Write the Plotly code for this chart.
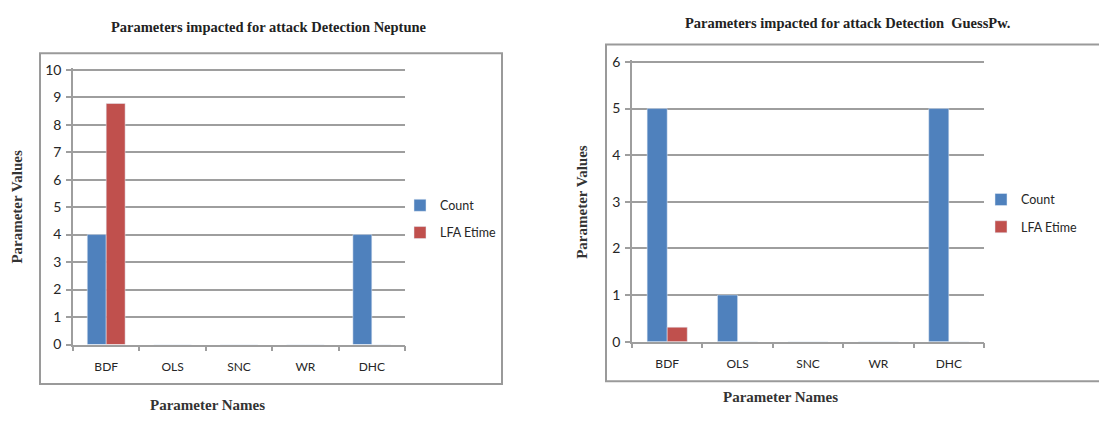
import plotly.graph_objects as go

categories = ["BDF", "OLS", "SNC", "WR", "DHC"]
neptune_count = [4, 0, 0, 0, 4]
neptune_lfa = [8.77, 0, 0, 0, 0]
guess_count = [5, 1, 0, 0, 5]
guess_lfa = [0.31, 0, 0, 0, 0]

left_title = "Parameters impacted for attack Detection Neptune"
right_title = "Parameters impacted for attack Detection  GuessPw."
y_title = "Parameter Values"
x_title = "Parameter Names"

BLUE = "#4F81BD"
RED = "#C0504D"
GRID = "#9E9E9E"
W, H = 1099, 421

def px(x):
    return x / W

def py(y):
    return 1 - y / H

fig = go.Figure()
fig.add_bar(x=categories, y=neptune_count, name="Count", marker_color=BLUE,
            xaxis="x", yaxis="y", legend="legend", legendgroup="a")
fig.add_bar(x=categories, y=neptune_lfa, name="LFA Etime", marker_color=RED,
            xaxis="x", yaxis="y", legend="legend", legendgroup="b")
fig.add_bar(x=categories, y=guess_count, name="Count", marker_color=BLUE,
            xaxis="x2", yaxis="y2", legend="legend2", legendgroup="c")
fig.add_bar(x=categories, y=guess_lfa, name="LFA Etime", marker_color=RED,
            xaxis="x2", yaxis="y2", legend="legend2", legendgroup="d")

SANS = "Lato, Open Sans, sans-serif"
xaxis_common = dict(type="category", showline=True, linecolor=GRID, linewidth=1.5,
                    ticks="outside", tickson="boundaries", ticklen=5, tickcolor=GRID,
                    tickwidth=1.5, showgrid=False, ticklabelstandoff=10,
                    tickfont=dict(family=SANS, size=12, color="#262626"),
                    fixedrange=True)
yaxis_common = dict(showline=True, linecolor=GRID, linewidth=1.5, ticks="outside",
                    ticklen=5, tickcolor=GRID, tickwidth=1.5, showgrid=True,
                    gridcolor=GRID, gridwidth=1.5, zeroline=False, ticklabelstandoff=2,
                    tickfont=dict(family=SANS, size=14, color="#262626"),
                    dtick=1, tick0=0, fixedrange=True)

# y-axis scale: left 0 at y=350, 10 at y=65; right 0 at 347, 6 at 57
L_TOP, R_TOP = 10.07, 6.04
l_unit = (350 - 65) / 10
r_unit = (347 - 57) / 6

legend_font = dict(family=SANS, size=12.5, color="#262626")
fig.update_layout(
    width=W, height=H,
    margin=dict(l=0, r=0, t=0, b=0),
    paper_bgcolor="white", plot_bgcolor="rgba(0,0,0,0)",
    barmode="group", bargap=0.43, bargroupgap=0,
    showlegend=True,
    xaxis=dict(domain=[px(73), px(405)], anchor="y", **xaxis_common),
    yaxis=dict(domain=[py(350), py(350 - L_TOP * l_unit)], anchor="x", range=[0, L_TOP], **yaxis_common),
    xaxis2=dict(domain=[px(632), px(984)], anchor="y2", **xaxis_common),
    yaxis2=dict(domain=[py(347), py(347 - R_TOP * r_unit)], anchor="x2", range=[0, R_TOP], **yaxis_common),
    legend=dict(x=px(400), y=py(220), xanchor="left", yanchor="middle",
                font=legend_font, tracegroupgap=8, bgcolor="rgba(0,0,0,0)"),
    legend2=dict(x=px(981), y=py(214), xanchor="left", yanchor="middle",
                 font=legend_font, tracegroupgap=8, bgcolor="rgba(0,0,0,0)"),
    shapes=[
        dict(type="rect", xref="paper", yref="paper", x0=px(40), x1=px(502),
             y0=py(391), y1=py(48), line=dict(color="#9A9A9A", width=2), layer="below"),
        dict(type="rect", xref="paper", yref="paper", x0=px(606), x1=px(1110),
             y0=py(388), y1=py(39), line=dict(color="#9A9A9A", width=2), layer="below"),
    ],
)

title_font = dict(family="Liberation Serif, DejaVu Serif, serif", size=14.5, color="#222222")
axis_font = dict(family="Liberation Serif, DejaVu Serif, serif", size=15, color="#333333")
ann = []
ann.append(dict(text="<b>%s</b>" % left_title, x=px(269), y=py(21), xref="paper", yref="paper",
                showarrow=False, xanchor="center", yanchor="middle", font=title_font))
ann.append(dict(text="<b>%s</b>" % right_title, x=px(848), y=py(17), xref="paper", yref="paper",
                showarrow=False, xanchor="center", yanchor="middle", font=title_font))
ann.append(dict(text="<b>%s</b>" % y_title, x=px(17), y=py(207), xref="paper", yref="paper",
                showarrow=False, textangle=-90, xanchor="center", yanchor="middle", font=axis_font))
ann.append(dict(text="<b>%s</b>" % y_title, x=px(582), y=py(202), xref="paper", yref="paper",
                showarrow=False, textangle=-90, xanchor="center", yanchor="middle", font=axis_font))
ann.append(dict(text="<b>%s</b>" % x_title, x=px(207), y=py(413), xref="paper", yref="paper",
                showarrow=False, xanchor="center", yanchor="middle", font=axis_font))
ann.append(dict(text="<b>%s</b>" % x_title, x=px(780), y=py(404), xref="paper", yref="paper",
                showarrow=False, xanchor="center", yanchor="middle", font=axis_font))
fig.update_layout(annotations=ann)

fig.write_html("out.html", config={"displayModeBar": False})
